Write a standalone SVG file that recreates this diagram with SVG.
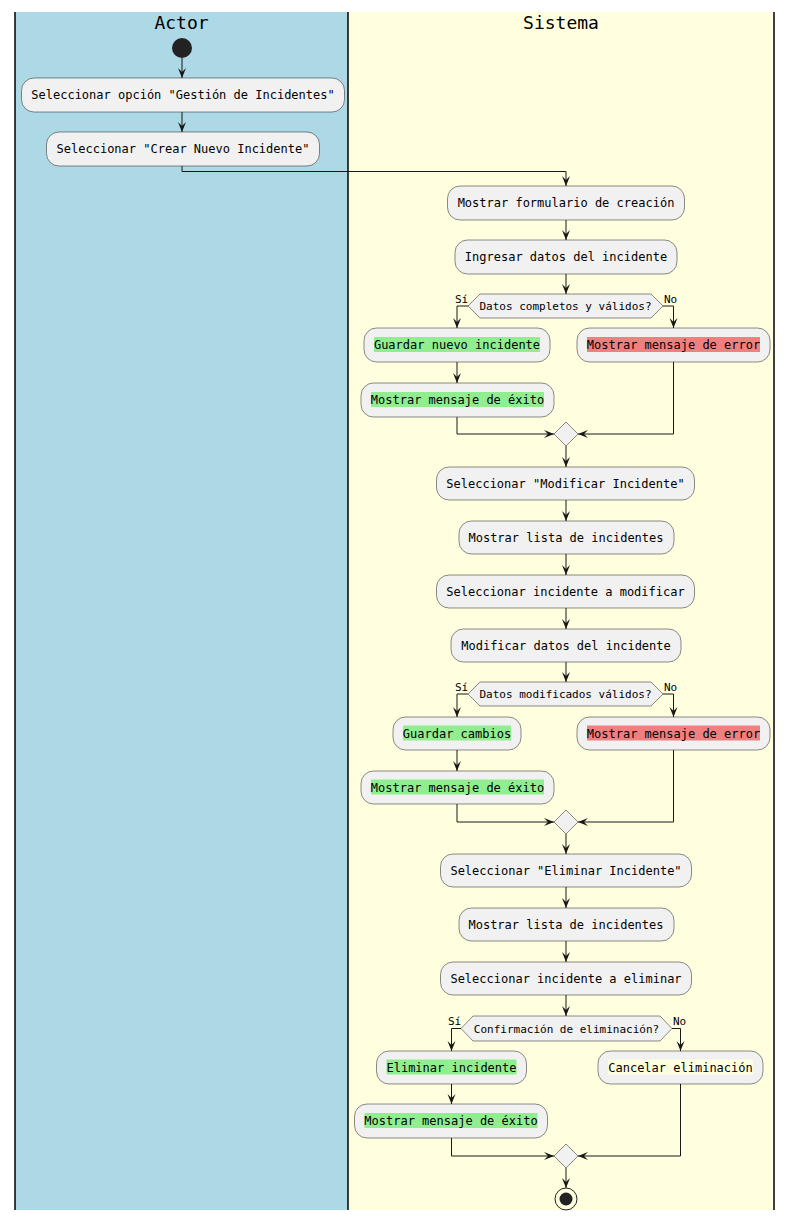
<svg xmlns="http://www.w3.org/2000/svg" width="796" height="1221" viewBox="0 0 796 1221">
  <defs>
    <style>
      .act rect.b { fill: #F1F1F1; stroke: #181818; stroke-width: 0.5; }
      .t { font-family: "DejaVu Sans Mono", "Liberation Mono", monospace; font-size: 12px; fill: #000000; text-anchor: middle; }
      .dt { font-family: "DejaVu Sans Mono", "Liberation Mono", monospace; font-size: 11px; fill: #000000; text-anchor: middle; }
      .lbl { font-family: "DejaVu Sans Mono", "Liberation Mono", monospace; font-size: 11px; fill: #000000; }
      .title { font-family: "DejaVu Sans Mono", "Liberation Mono", monospace; font-size: 18px; fill: #000000; text-anchor: middle; }
      .dec { fill: #F1F1F1; stroke: #181818; stroke-width: 0.5; }
      .ok { fill: #90EE90; }
      .err { fill: #F08080; }
      .neu { fill: #FFFFE0; }
      .edge { fill: none; stroke: #181818; stroke-width: 1; }
      .lane { stroke: #000000; stroke-width: 1.5; }
    </style>
    <marker id="arr" viewBox="0 0 10 10" refX="10" refY="5" markerWidth="10" markerHeight="10" markerUnits="userSpaceOnUse" orient="auto">
      <polygon points="0,1 10,5 0,9 4,5" fill="#181818"/>
    </marker>
  </defs>

  <!-- swimlanes -->
  <g id="lanes">
    <rect x="15" y="12" width="333" height="1198" fill="#ADD8E6"/>
    <rect x="348" y="12" width="426" height="1198" fill="#FFFFE0"/>
    <line class="lane" x1="15" y1="12" x2="15" y2="1210"/>
    <line class="lane" x1="348" y1="12" x2="348" y2="1210"/>
    <line class="lane" x1="774" y1="12" x2="774" y2="1210"/>
    <text class="title" x="181.5" y="29">Actor</text>
    <text class="title" x="561" y="29">Sistema</text>
  </g>

  <!-- connectors -->
  <g id="connectors" class="edge" marker-end="url(#arr)">
    <path d="M182,58 V78"/>
    <path d="M182,112 V132"/>
    <path d="M182,166 V171.5 H566 V186"/>
    <path d="M566,220 V240"/>
    <path d="M566,274 V294"/>
    <path d="M468,306 H457 V328"/>
    <path d="M663,306 H673.5 V328"/>
    <path d="M457,362 V383"/>
    <path d="M457,417 V434 H554"/>
    <path d="M673.5,362 V434 H578"/>
    <path d="M566,446 V467"/>
    <path d="M566,500 V521"/>
    <path d="M566,554 V575"/>
    <path d="M566,608 V629"/>
    <path d="M566,662 V682"/>
    <path d="M468,694 H457 V717"/>
    <path d="M663,694 H673.5 V717"/>
    <path d="M457,750 V771"/>
    <path d="M457,804 V822 H554"/>
    <path d="M673.5,750 V822 H578"/>
    <path d="M566,834 V854"/>
    <path d="M566,887 V908"/>
    <path d="M566,941 V962"/>
    <path d="M566,995 V1016"/>
    <path d="M461,1028.5 H451.5 V1051"/>
    <path d="M672,1028.5 H680.5 V1051"/>
    <path d="M451.5,1084 V1104"/>
    <path d="M451.5,1138 V1156 H554"/>
    <path d="M680.5,1084 V1156 H578"/>
    <path d="M566,1168 V1188"/>
  </g>

  <!-- start -->
  <g id="start">
    <circle cx="182" cy="48" r="10" fill="#222222"/>
  </g>

  <g id="n1" class="act">
    <rect class="b" x="21.5" y="78" width="323" height="34" rx="12.5"/>
    <text class="t" x="183" y="99">Seleccionar opción "Gestión de Incidentes"</text>
  </g>
  <g id="n2" class="act">
    <rect class="b" x="46.5" y="132" width="273" height="34" rx="12.5"/>
    <text class="t" x="183" y="153">Seleccionar "Crear Nuevo Incidente"</text>
  </g>
  <g id="n3" class="act">
    <rect class="b" x="447.5" y="186" width="237" height="34" rx="12.5"/>
    <text class="t" x="566" y="207">Mostrar formulario de creación</text>
  </g>
  <g id="n4" class="act">
    <rect class="b" x="455" y="240" width="222" height="34" rx="12.5"/>
    <text class="t" x="566" y="261">Ingresar datos del incidente</text>
  </g>
  <g id="d1">
    <polygon class="dec" points="468,306 480,294 651,294 663,306 651,318 480,318"/>
    <text class="dt" x="565.5" y="310">Datos completos y válidos?</text>
    <text class="lbl" x="455" y="303">Sí</text>
    <text class="lbl" x="664" y="303">No</text>
  </g>
  <g id="n5" class="act">
    <rect class="b" x="364" y="328" width="186" height="34" rx="12.5"/>
    <rect class="ok" x="374" y="337" width="166" height="15"/>
    <text class="t" x="457" y="349">Guardar nuevo incidente</text>
  </g>
  <g id="n6" class="act">
    <rect class="b" x="577" y="328" width="193" height="34" rx="12.5"/>
    <rect class="err" x="587" y="337" width="173" height="15"/>
    <text class="t" x="673.5" y="349">Mostrar mensaje de error</text>
  </g>
  <g id="n7" class="act">
    <rect class="b" x="361" y="383" width="193" height="34" rx="12.5"/>
    <rect class="ok" x="371" y="392" width="173" height="15"/>
    <text class="t" x="457.5" y="404">Mostrar mensaje de éxito</text>
  </g>
  <g id="m1">
    <polygon class="dec" points="554,434 566,422 578,434 566,446"/>
  </g>
  <g id="n8" class="act">
    <rect class="b" x="436.5" y="467" width="258" height="33" rx="12.5"/>
    <text class="t" x="565.5" y="488">Seleccionar "Modificar Incidente"</text>
  </g>
  <g id="n9" class="act">
    <rect class="b" x="459" y="521" width="215" height="33" rx="12.5"/>
    <text class="t" x="566" y="542">Mostrar lista de incidentes</text>
  </g>
  <g id="n10" class="act">
    <rect class="b" x="436.5" y="575" width="258" height="33" rx="12.5"/>
    <text class="t" x="565.5" y="596">Seleccionar incidente a modificar</text>
  </g>
  <g id="n11" class="act">
    <rect class="b" x="451" y="629" width="230" height="33" rx="12.5"/>
    <text class="t" x="566" y="650">Modificar datos del incidente</text>
  </g>
  <g id="d2">
    <polygon class="dec" points="468,694 480,682 651,682 663,694 651,706 480,706"/>
    <text class="dt" x="565.5" y="698">Datos modificados válidos?</text>
    <text class="lbl" x="455" y="691">Sí</text>
    <text class="lbl" x="664" y="691">No</text>
  </g>
  <g id="n12" class="act">
    <rect class="b" x="393" y="717" width="128" height="33" rx="12.5"/>
    <rect class="ok" x="403" y="725.5" width="108" height="15"/>
    <text class="t" x="457" y="737.5">Guardar cambios</text>
  </g>
  <g id="n13" class="act">
    <rect class="b" x="577" y="717" width="193" height="33" rx="12.5"/>
    <rect class="err" x="587" y="725.5" width="173" height="15"/>
    <text class="t" x="673.5" y="737.5">Mostrar mensaje de error</text>
  </g>
  <g id="n14" class="act">
    <rect class="b" x="361" y="771" width="193" height="33" rx="12.5"/>
    <rect class="ok" x="371" y="779.5" width="173" height="15"/>
    <text class="t" x="457.5" y="791.5">Mostrar mensaje de éxito</text>
  </g>
  <g id="m2">
    <polygon class="dec" points="554,822 566,810 578,822 566,834"/>
  </g>
  <g id="n15" class="act">
    <rect class="b" x="440.5" y="854" width="251" height="33" rx="12.5"/>
    <text class="t" x="566" y="875">Seleccionar "Eliminar Incidente"</text>
  </g>
  <g id="n16" class="act">
    <rect class="b" x="459" y="908" width="215" height="33" rx="12.5"/>
    <text class="t" x="566" y="929">Mostrar lista de incidentes</text>
  </g>
  <g id="n17" class="act">
    <rect class="b" x="440.5" y="962" width="251" height="33" rx="12.5"/>
    <text class="t" x="566" y="983">Seleccionar incidente a eliminar</text>
  </g>
  <g id="d3">
    <polygon class="dec" points="461,1028.5 473,1016 660,1016 672,1028.5 660,1041 473,1041"/>
    <text class="dt" x="566.5" y="1032.5">Confirmación de eliminación?</text>
    <text class="lbl" x="448" y="1025">Sí</text>
    <text class="lbl" x="673" y="1025">No</text>
  </g>
  <g id="n18" class="act">
    <rect class="b" x="376.5" y="1051" width="150" height="33" rx="12.5"/>
    <rect class="ok" x="386.5" y="1059.5" width="130" height="15"/>
    <text class="t" x="451.5" y="1071.5">Eliminar incidente</text>
  </g>
  <g id="n19" class="act">
    <rect class="b" x="598" y="1051" width="165" height="33" rx="12.5"/>
    <rect class="neu" x="608" y="1059.5" width="145" height="15"/>
    <text class="t" x="680.5" y="1071.5">Cancelar eliminación</text>
  </g>
  <g id="n20" class="act">
    <rect class="b" x="354.5" y="1104" width="193" height="34" rx="12.5"/>
    <rect class="ok" x="364.5" y="1113" width="173" height="15"/>
    <text class="t" x="451" y="1125">Mostrar mensaje de éxito</text>
  </g>
  <g id="m3">
    <polygon class="dec" points="554,1156 566,1144 578,1156 566,1168"/>
  </g>
  <g id="end">
    <circle cx="566" cy="1199" r="11" fill="none" stroke="#222222" stroke-width="1"/>
    <circle cx="566" cy="1199" r="6.5" fill="#222222"/>
  </g>
</svg>
